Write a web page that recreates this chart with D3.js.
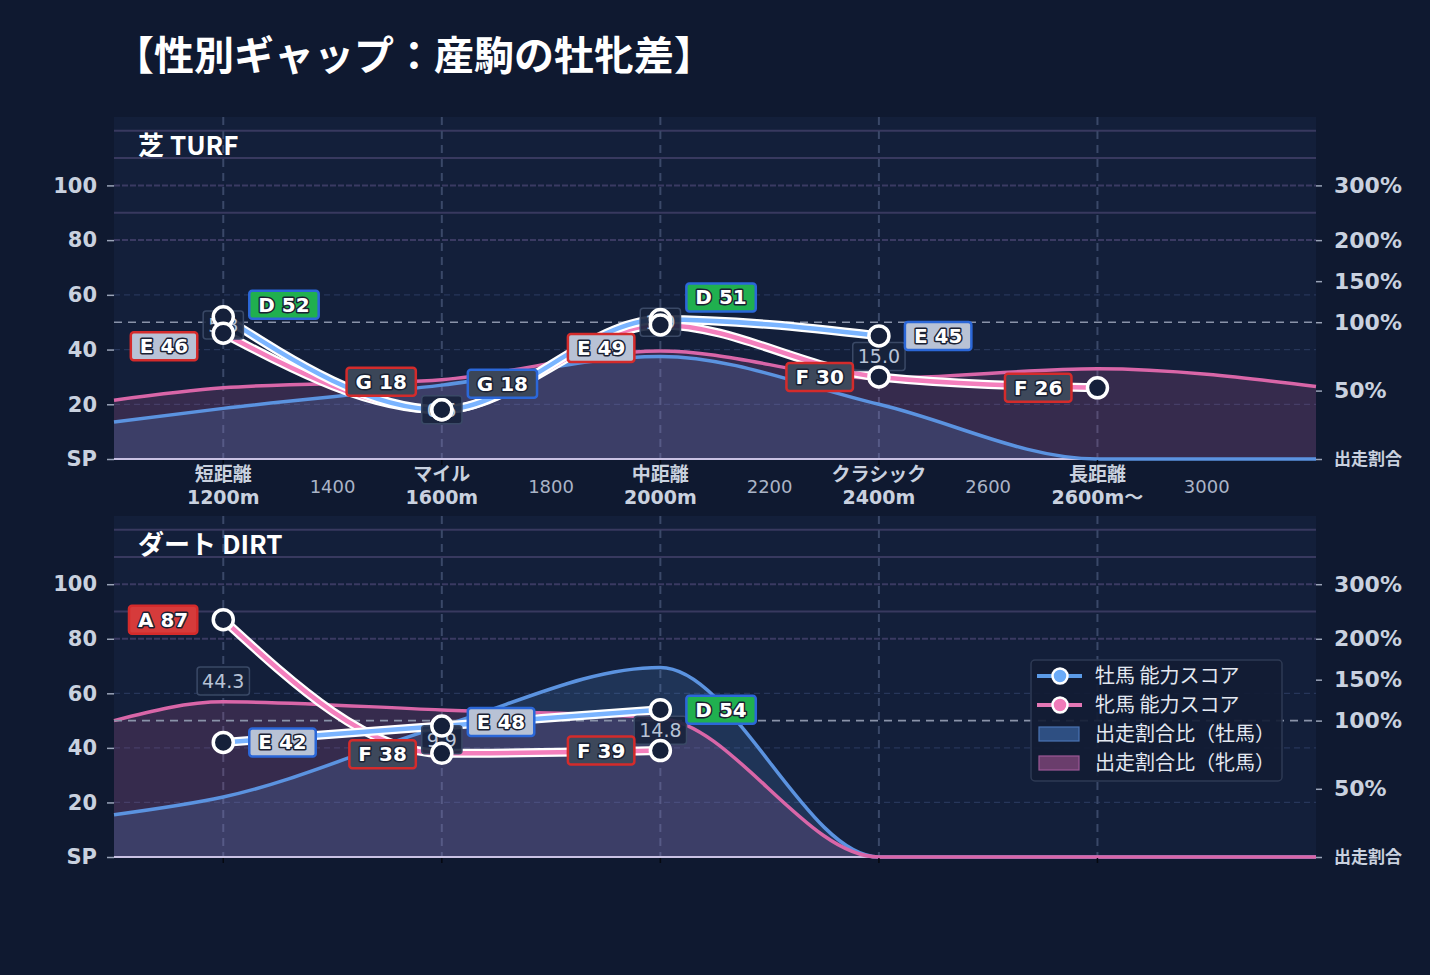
<!DOCTYPE html>
<html>
<head>
<meta charset="utf-8">
<script src="https://cdn.jsdelivr.net/npm/d3@7"></script>
<style>
body { margin: 0; background: #0f1930; }
text { font-family: "DejaVu Sans", "Noto Sans CJK JP", sans-serif; }
</style>
</head>
<body>
<div id="container"></div>
<script>
const width = 1430;
const height = 975;

// categories (distance in m)
const catDist = [1200, 1600, 2000, 2400, 2800];
const catName = ["短距離", "マイル", "中距離", "クラシック", "長距離"];
const catSub = ["1200m", "1600m", "2000m", "2400m", "2600m〜"];
const minorDist = [1400, 1800, 2200, 2600, 3000];

// 芝 TURF
const turfMaleScore = [52, 18, 51, 45, null];
const turfMaleGrade = ["D", "G", "D", "E", null];
const turfFemaleScore = [46, 18, 49, 30, 26];
const turfFemaleGrade = ["E", "G", "E", "F", "F"];
const turfGap = [5.8, 0.5, 1.9, 15.0, null];

// ダート DIRT
const dirtMaleScore = [42, 48, 54, null, null];
const dirtMaleGrade = ["E", "E", "D", null, null];
const dirtFemaleScore = [87, 38, 39, null, null];
const dirtFemaleGrade = ["A", "F", "F", null, null];
const dirtGap = [44.3, 9.9, 14.8, null, null];

// 出走割合比 (%) sampled along distance
const ratioDist = [1000, 1200, 1600, 2000, 2400, 2800, 3200];
const turfMaleRatio = [27, 37, 54, 75, 40, 0, 0];
const turfFemaleRatio = [43, 52, 58, 79, 59, 66, 53];
const dirtMaleRatio = [31, 44, 96, 165, 0, 0, 0];
const dirtFemaleRatio = [100, 123, 113, 103, 0, 0, 0];

// right axis ticks
const ratioTicks = [0, 50, 100, 150, 200, 300];

// label nudges (layout only)
const turfNudge = { male: [-12, -26, -22, 0, 0], female: [13, -28, 23, 0, 0] };
const dirtNudge = { male: [0, -4, 0, 0, 0], female: [0, 1, 0, 0, 0] };

const maleColor = "#7ab4ff";
const femaleColor = "#f47fbd";
const maleArea = "#5b93e0";
const femaleArea = "#d966a8";
const gradeFill = { A: "#d63b3b", B: "#e07b2b", C: "#d8b22a", D: "#20b04f", E: "#b8c2d5", F: "#3d485b", G: "#3b4658" };

const svg = d3.select("#container")
	.append("svg")
	.attr("width", width)
	.attr("height", height);

svg.append("rect").attr("width", width).attr("height", height).attr("fill", "#0f1930");

svg.append("text")
	.attr("x", 114)
	.attr("y", 70)
	.attr("fill", "#ffffff")
	.style("font-family", "'Noto Sans CJK JP'")
	.style("font-weight", 700)
	.style("font-size", "40px")
	.text("【性別ギャップ：産駒の牡牝差】");

const x = d3.scaleLinear().domain([1000, 3200]).range([114, 1316]);

function drawPanel(cfg) {
	const g = svg.append("g");
	const y = d3.scaleLinear().domain([0, 125]).range([cfg.bottom, cfg.top]);
	// percent -> score units, then pixels
	const r = d3.scaleLinear()
		.domain([0, 50, 100, 150, 200, 250, 300, 350, 400])
		.range([0, 25, 50, 65, 80, 90, 100, 110, 120].map(y));

	g.append("rect")
		.attr("x", x.range()[0]).attr("y", cfg.top)
		.attr("width", x.range()[1] - x.range()[0])
		.attr("height", cfg.bottom - cfg.top)
		.attr("fill", "#131f3a");

	// grid lines
	[250, 350, 400].forEach(function(v) {
		g.append("line").attr("x1", 114).attr("x2", 1316).attr("y1", r(v)).attr("y2", r(v))
			.attr("stroke", "#38395f").attr("stroke-width", 2);
	});
	[80, 100].forEach(function(v) {
		g.append("line").attr("x1", 114).attr("x2", 1316).attr("y1", y(v)).attr("y2", y(v))
			.attr("stroke", "#3a3a62").attr("stroke-width", 2).attr("stroke-dasharray", "6 2");
	});
	[20, 40, 60].forEach(function(v) {
		g.append("line").attr("x1", 114).attr("x2", 1316).attr("y1", y(v)).attr("y2", y(v))
			.attr("stroke", "#27365a").attr("stroke-width", 1.2).attr("stroke-dasharray", "6 4");
	});
	catDist.forEach(function(d) {
		g.append("line").attr("x1", x(d)).attr("x2", x(d)).attr("y1", cfg.top).attr("y2", cfg.bottom)
			.attr("stroke", "#3a4868").attr("stroke-width", 2).attr("stroke-dasharray", "8 6");
	});

	// ratio areas
	const pts = function(arr) { return arr.map(function(v, i) { return [ratioDist[i], v]; }); };
	const area = d3.area().x(d => x(d[0])).y0(y(0)).y1(d => r(d[1])).curve(d3.curveMonotoneX);
	const aline = d3.line().x(d => x(d[0])).y(d => r(d[1])).curve(d3.curveMonotoneX);

	g.append("path").attr("d", area(pts(cfg.femaleRatio))).attr("fill", femaleArea).attr("fill-opacity", 0.18);
	g.append("path").attr("d", area(pts(cfg.maleRatio))).attr("fill", maleArea).attr("fill-opacity", 0.18);

	// baseline
	g.append("line").attr("x1", 114).attr("x2", 1316).attr("y1", y(0)).attr("y2", y(0))
		.attr("stroke", "#c9c1e3").attr("stroke-width", 2);

	g.append("path").attr("d", aline(pts(cfg.maleRatio))).attr("fill", "none")
		.attr("stroke", maleArea).attr("stroke-width", 3.5);
	g.append("path").attr("d", aline(pts(cfg.femaleRatio))).attr("fill", "none")
		.attr("stroke", femaleArea).attr("stroke-width", 3.5);

	// 100% reference
	g.append("line").attr("x1", 114).attr("x2", 1316).attr("y1", r(100)).attr("y2", r(100))
		.attr("stroke", "#8a93a9").attr("stroke-width", 1.6).attr("stroke-dasharray", "8 6");

	// axes
	const left = g.append("g").attr("transform", "translate(114,0)")
		.call(d3.axisLeft(y).tickValues([0, 20, 40, 60, 80, 100])
			.tickFormat(v => v === 0 ? "SP" : v).tickSize(7).tickPadding(10));
	const right = g.append("g").attr("transform", "translate(1316,0)")
		.call(d3.axisRight(r).tickValues(ratioTicks)
			.tickFormat(v => v === 0 ? "出走割合" : v + "%").tickSize(6).tickPadding(12));
	[left, right].forEach(function(a) {
		a.select(".domain").remove();
		a.selectAll(".tick line").attr("stroke", "#9aa4b8").attr("stroke-width", 1.5);
		a.selectAll(".tick text").attr("fill", "#c9d1df")
			.style("font-size", "21px").style("font-weight", 700)
			.style("font-family", "'DejaVu Sans', 'Noto Sans CJK JP'");
	});
	right.selectAll(".tick text").style("font-size", "22px");
	right.selectAll(".tick text").filter(d => d === 0).style("font-size", "17px");

	// small x ticks
	catDist.forEach(function(d) {
		g.append("line").attr("x1", x(d)).attr("x2", x(d)).attr("y1", y(0) + 1).attr("y2", y(0) + 6)
			.attr("stroke", "#05080f").attr("stroke-width", 1.5);
	});

	// panel title
	g.append("text").attr("x", 138).attr("y", cfg.top + 38)
		.attr("fill", "#ffffff")
		.style("font-family", "'Noto Sans CJK JP'")
		.style("font-weight", 700).style("font-size", "26px")
		.text(cfg.title);

	// x labels
	if (cfg.xLabels) {
		catDist.forEach(function(d, i) {
			g.append("text").attr("x", x(d)).attr("y", cfg.bottom + 22)
				.attr("text-anchor", "middle").attr("fill", "#c9d1df")
				.style("font-family", "'Noto Sans CJK JP'")
				.style("font-size", "19px").style("font-weight", 700).text(catName[i]);
			g.append("text").attr("x", x(d)).attr("y", cfg.bottom + 45)
				.attr("text-anchor", "middle").attr("fill", "#c9d1df")
				.style("font-size", "19px").style("font-weight", 700).text(catSub[i]);
		});
		minorDist.forEach(function(d) {
			g.append("text").attr("x", x(d)).attr("y", cfg.bottom + 34)
				.attr("text-anchor", "middle").attr("fill", "#aab4c7")
				.style("font-size", "18px").text(d);
		});
	}

	// score lines
	const sline = d3.line().defined(d => d[1] != null)
		.x(d => x(d[0])).y(d => y(d[1])).curve(d3.curveMonotoneX);
	const mPts = cfg.maleScore.map((v, i) => [catDist[i], v]).filter(d => d[1] != null);
	const fPts = cfg.femaleScore.map((v, i) => [catDist[i], v]).filter(d => d[1] != null);

	[[fPts, femaleColor], [mPts, maleColor]].forEach(function(s) {
		g.append("path").attr("d", sline(s[0])).attr("fill", "none")
			.attr("stroke", "#ffffff").attr("stroke-width", 9);
		g.append("path").attr("d", sline(s[0])).attr("fill", "none")
			.attr("stroke", s[1]).attr("stroke-width", 4.5);
	});

	// gap boxes
	cfg.gap.forEach(function(v, i) {
		if (v == null) return;
		const cy = (y(cfg.maleScore[i]) + y(cfg.femaleScore[i])) / 2;
		const t = g.append("text").attr("x", x(catDist[i])).attr("y", cy + 7)
			.attr("text-anchor", "middle").attr("fill", "#b8c3d6")
			.style("font-size", "19px").text(v.toFixed(1));
		const w = t.node().getComputedTextLength() + 10;
		g.insert("rect", () => t.node())
			.attr("x", x(catDist[i]) - w / 2).attr("y", cy - 14)
			.attr("width", w).attr("height", 28).attr("rx", 3)
			.attr("fill", "#17223c").attr("fill-opacity", 0.9)
			.attr("stroke", "#3a4966").attr("stroke-width", 1.5);
	});

	// points
	mPts.concat(fPts).forEach(function(d) {
		g.append("circle").attr("cx", x(d[0])).attr("cy", y(d[1])).attr("r", 10)
			.attr("fill", "#15203a").attr("stroke", "#ffffff").attr("stroke-width", 3.5);
	});

	// grade labels
	function label(score, grade, nudge, side, border) {
		score.forEach(function(v, i) {
			if (v == null) return;
			const cx = x(catDist[i]);
			const cy = y(v) + nudge[i];
			const t = g.append("text").attr("y", cy + 7)
				.attr("fill", "#ffffff")
				.attr("stroke", "#1a2133").attr("stroke-width", 3).attr("paint-order", "stroke")
				.attr("stroke-linejoin", "round")
				.style("font-size", "20px").style("font-weight", 700)
				.text(grade[i] + " " + v);
			const w = t.node().getComputedTextLength() + 18;
			const bx = side > 0 ? cx + 26 : cx - 26 - w;
			t.attr("x", bx + 9);
			g.insert("rect", () => t.node())
				.attr("x", bx).attr("y", cy - 14).attr("width", w).attr("height", 28).attr("rx", 3)
				.attr("fill", gradeFill[grade[i]]).attr("stroke", border).attr("stroke-width", 2.5);
		});
	}
	label(cfg.femaleScore, cfg.femaleGrade, cfg.nudge.female, -1, "#d42b2b");
	label(cfg.maleScore, cfg.maleGrade, cfg.nudge.male, 1, "#2b67d8");
}

drawPanel({
	top: 117, bottom: 459, title: "芝 TURF", xLabels: true,
	maleScore: turfMaleScore, maleGrade: turfMaleGrade,
	femaleScore: turfFemaleScore, femaleGrade: turfFemaleGrade,
	gap: turfGap, maleRatio: turfMaleRatio, femaleRatio: turfFemaleRatio, nudge: turfNudge
});

drawPanel({
	top: 516, bottom: 857, title: "ダート DIRT", xLabels: false,
	maleScore: dirtMaleScore, maleGrade: dirtMaleGrade,
	femaleScore: dirtFemaleScore, femaleGrade: dirtFemaleGrade,
	gap: dirtGap, maleRatio: dirtMaleRatio, femaleRatio: dirtFemaleRatio, nudge: dirtNudge
});

// legend
const legend = svg.append("g").attr("transform", "translate(1031,660)");
legend.append("rect").attr("width", 251).attr("height", 121).attr("rx", 4)
	.attr("fill", "#121c34").attr("fill-opacity", 0.92)
	.attr("stroke", "#2e3a54").attr("stroke-width", 1.5);
const legendItems = [
	{ label: "牡馬 能力スコア", type: "line", color: "#5b9be8", dot: "#6aaaf7" },
	{ label: "牝馬 能力スコア", type: "line", color: "#e477b5", dot: "#f07ab8" },
	{ label: "出走割合比（牡馬）", type: "rect", color: "#2e4f82", stroke: "#4a74b4" },
	{ label: "出走割合比（牝馬）", type: "rect", color: "#6a3d6c", stroke: "#9c5896" }
];
legendItems.forEach(function(d, i) {
	const cy = 16 + i * 29;
	if (d.type === "line") {
		legend.append("line").attr("x1", 6).attr("x2", 51).attr("y1", cy).attr("y2", cy)
			.attr("stroke", d.color).attr("stroke-width", 4);
		legend.append("circle").attr("cx", 29).attr("cy", cy).attr("r", 7.5)
			.attr("fill", d.dot).attr("stroke", "#ffffff").attr("stroke-width", 2.5);
	} else {
		legend.append("rect").attr("x", 8).attr("y", cy - 7).attr("width", 40).attr("height", 14)
			.attr("fill", d.color).attr("stroke", d.stroke).attr("stroke-width", 1.2);
	}
	legend.append("text").attr("x", 64).attr("y", cy + 7)
		.attr("fill", "#e3e8f1")
		.style("font-family", "'Noto Sans CJK JP'")
		.style("font-size", "20px")
		.text(d.label);
});
</script>
</body>
</html>
